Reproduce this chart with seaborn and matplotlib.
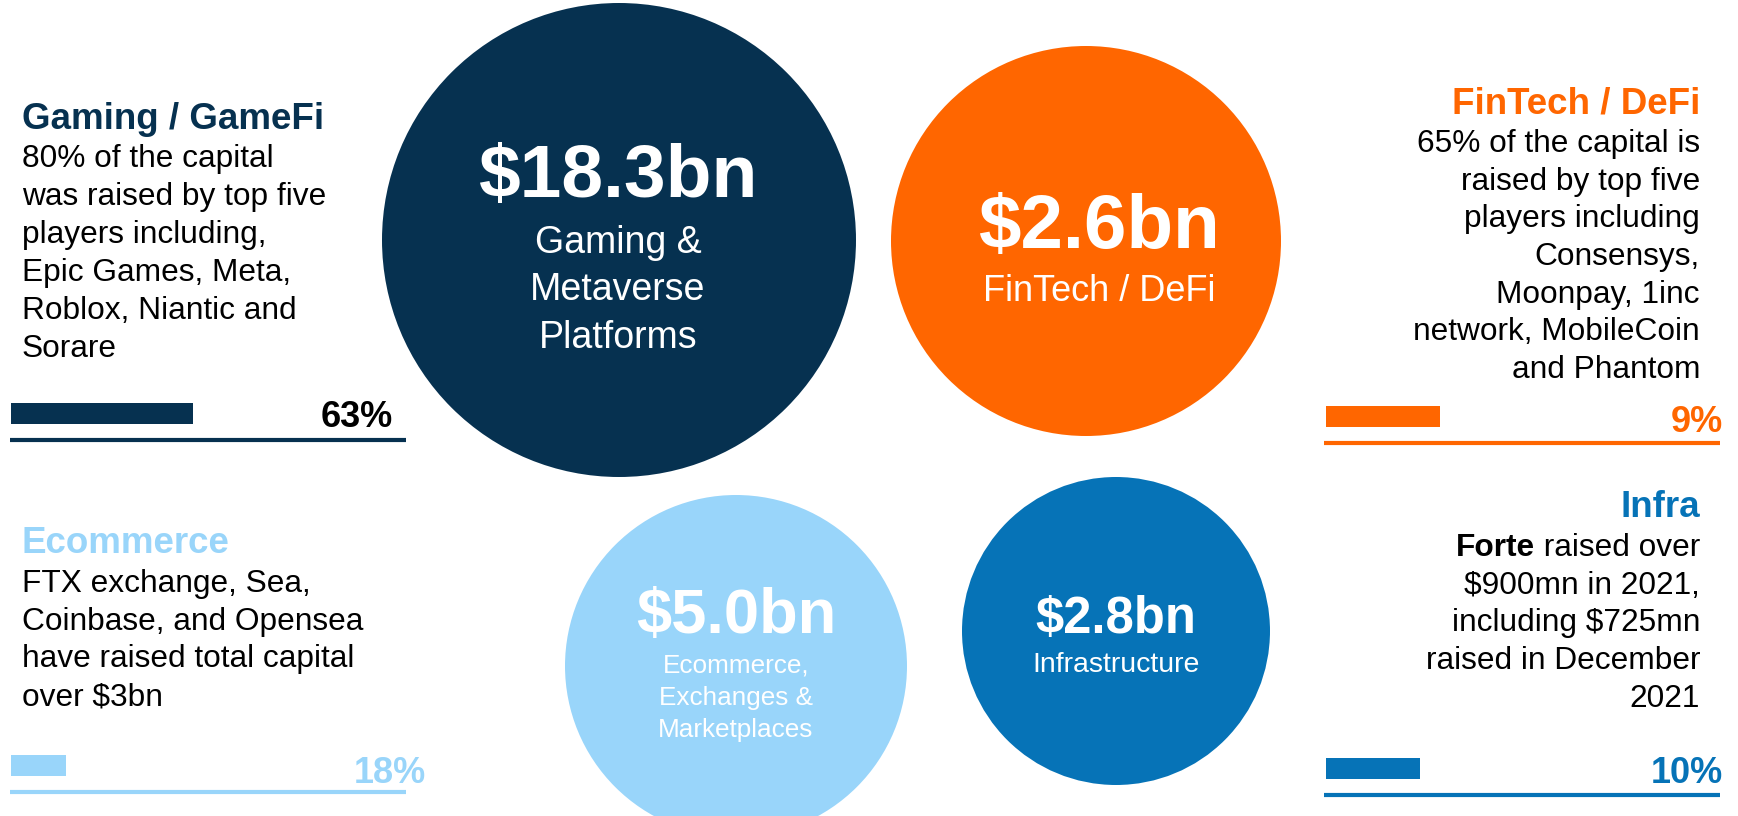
"""Web3 capital raised by segment: bubble infographic with share bars."""

import matplotlib.pyplot as plt
import pandas as pd
import seaborn as sns

# ---- data -------------------------------------------------------------
segments = ["Gaming", "FinTech", "Ecommerce", "Infra"]
capital_bn = [18.3, 2.6, 5.0, 2.8]
share_pct = [63, 9, 18, 10]
bubble_labels = [
    ["Gaming &", "Metaverse", "Platforms"],
    ["FinTech / DeFi"],
    ["Ecommerce,", "Exchanges &", "Marketplaces"],
    ["Infrastructure"],
]
panel_titles = ["Gaming / GameFi", "FinTech / DeFi", "Ecommerce", "Infra"]
panel_notes = [
    ["80% of the capital", "was raised by top five", "players including,",
     "Epic Games, Meta,", "Roblox, Niantic and", "Sorare"],
    ["65% of the capital is", "raised by top five", "players including",
     "Consensys,", "Moonpay, 1inc", "network, MobileCoin", "and Phantom"],
    ["FTX exchange, Sea,", "Coinbase, and Opensea",
     "have raised total capital", "over $3bn"],
    ["Forte raised over", "$900mn in 2021,", "including $725mn",
     "raised in December", "2021"],
]
bold_lead = [None, None, None, "Forte"]

# ---- style / layout (pixel coordinates, y down) ------------------------
W, H, DPI = 1738, 816, 100
colors = {"Gaming": "#063150", "FinTech": "#FF6600",
          "Ecommerce": "#99D5FA", "Infra": "#0673B7"}
pct_colors = {"Gaming": "black", "FinTech": "#FF6600",
              "Ecommerce": "#99D5FA", "Infra": "#0673B7"}

bubble = {  # cx, cy, radius
    "Gaming": (619, 240, 237),
    "FinTech": (1086, 241, 195),
    "Ecommerce": (736, 666, 171),
    "Infra": (1116, 631, 154),
}
# value text: x, baseline, size ; sub text: baseline, step, size
bubble_text = {
    "Gaming": (618, 197, 54, 253, 47.5, 27),
    "FinTech": (1099, 248, 55, 301, 0, 26),
    "Ecommerce": (736, 633, 45.5, 673, 32, 18.8),
    "Infra": (1116, 633, 36.5, 672, 0, 20.5),
}
# panel: text x, align, title baseline, first note baseline, line step
panel = {
    "Gaming": (22, "left", 129, 167, 38),
    "FinTech": (1700, "right", 113, 152, 37.7),
    "Ecommerce": (22, "left", 553, 592, 37.7),
    "Infra": (1700, "right", 517, 556, 37.7),
}
# bar: left, length, top, height ; rule: x0, x1, y ; pct: right, baseline
bar = {
    "Gaming": (11, 182, 403, 21, 10, 406, 440, 393, 427),
    "FinTech": (1326, 114, 406, 21, 1324, 1720, 443, 1723, 432),
    "Ecommerce": (11, 55, 755, 21, 10, 406, 792, 426, 783),
    "Infra": (1326, 94, 758, 21, 1324, 1720, 795, 1723, 783),
}
TITLE_SIZE, NOTE_SIZE, PCT_SIZE = 26.5, 22.8, 26

sns.set_theme(style="white")
plt.rcParams["font.family"] = ["Liberation Sans", "DejaVu Sans"]

fig = plt.figure(figsize=(W / DPI, H / DPI), dpi=DPI)
ax = fig.add_axes([0, 0, 1, 1])

# bubbles: marker diameter in points = 2 r px * 72 / dpi
df = pd.DataFrame({
    "segment": segments,
    "capital_bn": capital_bn,
    "x": [bubble[s][0] for s in segments],
    "y": [bubble[s][1] for s in segments],
})
sizes = {s: (2 * bubble[s][2] * 72 / DPI) ** 2 for s in segments}
sns.scatterplot(data=df, x="x", y="y", hue="segment", palette=colors,
                size="segment", sizes=sizes, linewidth=0, legend=False,
                alpha=1, ax=ax)

for seg, val, lines in zip(segments, capital_bn, bubble_labels):
    x, vb, vs, sb, step, ss = bubble_text[seg]
    ax.text(x, vb, f"${val:.1f}bn", ha="center", va="baseline",
            fontsize=vs, fontweight="bold", color="white")
    for i, line in enumerate(lines):
        ax.text(x, sb + i * step, line, ha="center", va="baseline",
                fontsize=ss, color="white")

# side panels
for seg, title, notes, lead in zip(segments, panel_titles, panel_notes,
                                   bold_lead):
    x, align, tb, nb, step = panel[seg]
    ax.text(x, tb, title, ha=align, va="baseline", fontsize=TITLE_SIZE,
            fontweight="bold", color=colors[seg])
    for i, line in enumerate(notes):
        y = nb + i * step
        if i == 0 and lead and line.startswith(lead):
            rest = ax.text(x, y, line[len(lead):], ha=align, va="baseline",
                           fontsize=NOTE_SIZE, color="black")
            ax.annotate(lead, xy=(0, 0), xycoords=rest, ha="right",
                        va="bottom", fontsize=NOTE_SIZE, fontweight="bold",
                        color="black")
        else:
            ax.text(x, y, line, ha=align, va="baseline", fontsize=NOTE_SIZE,
                    color="black")

# share bars with rule and percentage
for seg, pct in zip(segments, share_pct):
    left, length, top, h, x0, x1, ry, pr, pb = bar[seg]
    ax.barh(top + h / 2, length, height=h, left=left, color=colors[seg],
            linewidth=0)
    ax.plot([x0, x1], [ry, ry], color=colors[seg], linewidth=3,
            solid_capstyle="butt")
    ax.text(pr, pb, f"{pct}%", ha="right", va="baseline", fontsize=PCT_SIZE,
            fontweight="bold", color=pct_colors[seg])

ax.set_xlim(0, W)
ax.set_ylim(H, 0)
ax.axis("off")

fig.savefig("out.png", dpi=DPI, facecolor="white")
plt.close(fig)
